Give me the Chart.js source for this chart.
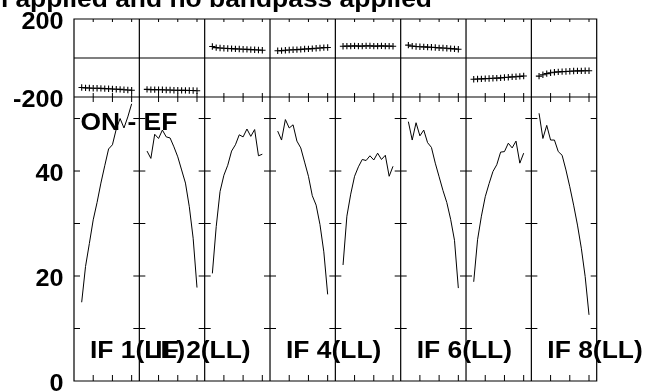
<!DOCTYPE html>
<html><head><meta charset="utf-8">
<script src="https://cdn.jsdelivr.net/npm/chart.js@4/dist/chart.umd.min.js"></script>
<style>html,body{margin:0;padding:0;background:#fff;overflow:hidden}#wrap{width:647px;height:391px;position:relative}</style>
</head><body><div id="wrap"><canvas id="c" width="647" height="391"></canvas></div>
<script>
// ---- data ----
const titleText = 'n applied and no bandpass applied';
const sourceLabel = 'ON - EF';
const panelLabels = ['IF 1(LL)', 'IF 2(LL)', '', 'IF 4(LL)', '', 'IF 6(LL)', '', 'IF 8(LL)'];
const channels = [2, 3, 4, 5, 6, 7, 8, 9, 10, 11, 12, 13, 14, 15];
const chanTicks = [5, 10, 15];
const ampTicks = [10, 20, 30, 40, 50];
const ampLabels = [0, 20, 40];
const phaseLabels = [200, -200];

const amp1 = [15.0, 21.8, 26.2, 30.7, 34.0, 37.7, 41.0, 44.2, 45.0, 48.0, 50.0, 48.2, 50.3, 52.8];
const amp2 = [43.8, 42.4, 47.0, 46.2, 47.8, 46.5, 46.3, 44.6, 42.7, 40.2, 37.7, 33.2, 27.2, 17.8];
const amp3 = [20.5, 29.4, 36.1, 39.2, 41.1, 43.8, 45.0, 46.9, 46.5, 48.0, 46.6, 47.9, 42.9, 43.2];
const amp4 = [47.6, 45.9, 49.8, 48.2, 48.8, 45.7, 44.4, 41.7, 39.0, 35.3, 33.5, 29.8, 24.6, 16.5];
const amp5 = [22.1, 31.4, 35.6, 39.0, 40.8, 42.2, 42.0, 42.9, 42.1, 43.4, 42.2, 43.0, 39.0, 40.9];
const amp6 = [49.4, 45.9, 49.2, 46.7, 47.8, 45.4, 44.5, 41.5, 38.9, 36.3, 34.0, 30.8, 26.8, 17.7];
const amp7 = [18.9, 26.9, 31.4, 35.1, 37.6, 39.9, 41.2, 43.6, 43.7, 45.3, 44.4, 45.7, 41.5, 43.4];
const amp8 = [51.0, 46.2, 48.7, 45.9, 45.9, 43.7, 43.0, 40.2, 37.0, 33.5, 29.7, 25.3, 19.9, 12.6];

const ph1 = [-151, -153, -154, -155, -155, -156, -157, -158, -159, -160, -161, -163, -164, -165];
const ph2 = [-161, -162, -162, -163, -163, -164, -164, -165, -165, -166, -166, -167, -167, -168];
const ph3 = [59, 53, 51, 50, 49, 48, 47, 46, 45, 44, 43, 42, 41, 40];
const ph4 = [37, 38, 40, 41, 42, 43, 44, 46, 47, 48, 50, 51, 53, 54];
const ph5 = [60, 61, 61, 62, 61, 61, 62, 62, 61, 61, 62, 61, 61, 60];
const ph6 = [66, 61, 59, 58, 57, 56, 55, 54, 52, 51, 50, 48, 47, 45];
const ph7 = [-109, -108, -107, -106, -105, -104, -103, -102, -100, -99, -97, -96, -94, -92];
const ph8 = [-93, -86, -80, -76, -73, -71, -70, -69, -68, -67, -66, -66, -65, -65];

const amps = [amp1, amp2, amp3, amp4, amp5, amp6, amp7, amp8];
const phases = [ph1, ph2, ph3, ph4, ph5, ph6, ph7, ph8];

// ---- layout constants (options) ----
const PANEL_W = 17;            // channel units per IF panel
const NPAN = 8;
const AMP_TOP = 54.1;          // amplitude at top of lower panel
const PH_MIN = -200, PH_MAX = 200;
const PLOT_TOP = 19, PLOT_BOT = 381, SPLIT = 97;
const FULL_H = PLOT_BOT - PLOT_TOP;
const ampMax = AMP_TOP * FULL_H / (PLOT_BOT - SPLIT);
const phMin = PH_MAX - (PH_MAX - PH_MIN) * FULL_H / (SPLIT - PLOT_TOP);

const FONT = 'bold 24px "Liberation Sans", Arial, sans-serif';
const SX = 1.1;

const datasets = [];
amps.forEach((a, k) => {
  datasets.push({
    type: 'line', yAxisID: 'yA',
    data: channels.map((c, i) => ({ x: k * PANEL_W + c, y: a[i] })),
    borderColor: '#000', borderWidth: 1, pointRadius: 0, fill: false, tension: 0
  });
});
phases.forEach((p, k) => {
  datasets.push({
    type: 'line', yAxisID: 'yP', showLine: false,
    data: channels.map((c, i) => ({ x: k * PANEL_W + c, y: p[i] })),
    pointStyle: 'cross', pointRadius: 3.2, pointBorderColor: '#000', pointBorderWidth: 1.1,
    pointBackgroundColor: '#000'
  });
});

function txt(ctx, s, x, y, align, sx) {
  ctx.save();
  ctx.translate(x, y);
  ctx.scale(sx, 1);
  ctx.textAlign = align;
  ctx.textBaseline = 'alphabetic';
  ctx.fillText(s, 0, 0);
  ctx.restore();
}

const framePlugin = {
  id: 'frame',
  afterDraw(chart) {
    const ctx = chart.ctx;
    const xs = chart.scales.x, ya = chart.scales.yA, yp = chart.scales.yP;
    const top = yp.getPixelForValue(PH_MAX), mid = yp.getPixelForValue(0), split = yp.getPixelForValue(PH_MIN);
    const bot = ya.getPixelForValue(0);
    const left = xs.getPixelForValue(0), right = xs.getPixelForValue(NPAN * PANEL_W);
    ctx.save();
    ctx.strokeStyle = '#000';
    ctx.lineWidth = 1.2;
    ctx.beginPath();
    ctx.rect(left, top, right - left, bot - top);
    ctx.moveTo(left, mid); ctx.lineTo(right, mid);
    ctx.moveTo(left, split); ctx.lineTo(right, split);
    for (let k = 1; k < NPAN; k++) {
      const x = xs.getPixelForValue(k * PANEL_W);
      ctx.moveTo(x, top); ctx.lineTo(x, bot);
    }
    ctx.stroke();
    ctx.lineWidth = 1;
    ctx.beginPath();
    for (let k = 0; k < NPAN; k++) {
      chanTicks.forEach(t => {
        const x = xs.getPixelForValue(k * PANEL_W + t);
        ctx.moveTo(x, top); ctx.lineTo(x, top + 3);
        ctx.moveTo(x, split); ctx.lineTo(x, split - 4);
        ctx.moveTo(x, split); ctx.lineTo(x, split + 5);
        ctx.moveTo(x, bot); ctx.lineTo(x, bot - 6);
      });
    }
    for (let k = 0; k <= NPAN; k++) {
      const x = xs.getPixelForValue(k * PANEL_W);
      ampTicks.forEach(v => {
        const y = ya.getPixelForValue(v);
        ctx.moveTo(k === 0 ? x : x - 6, y);
        ctx.lineTo(k === NPAN ? x : x + 6, y);
      });
    }
    ctx.stroke();
    // text
    ctx.fillStyle = '#000';
    ctx.font = FONT;
    phaseLabels.forEach(v => txt(ctx, String(v), 63.5, yp.getPixelForValue(v) + 10, 'right', 1.05));
    ampLabels.forEach(v => txt(ctx, String(v), 63.5, ya.getPixelForValue(v) + 10, 'right', 1.05));
    txt(ctx, titleText, 432, 7, 'right', SX);
    txt(ctx, sourceLabel, left + 6.5, 129.5, 'left', SX);
    panelLabels.forEach((s, k) => {
      if (!s) return;
      txt(ctx, s, xs.getPixelForValue(k * PANEL_W) + 16, 357.5, 'left', SX);
    });
    ctx.restore();
  }
};

new Chart(document.getElementById('c'), {
  type: 'line',
  data: { datasets },
  options: {
    responsive: false, animation: false, events: [],
    layout: { padding: { left: 74, right: 647 - 596.7, top: PLOT_TOP, bottom: 391 - PLOT_BOT } },
    plugins: { legend: { display: false }, tooltip: { enabled: false }, title: { display: false } },
    scales: {
      x: { type: 'linear', min: 0, max: NPAN * PANEL_W, display: false },
      yA: { type: 'linear', position: 'left', min: 0, max: ampMax, display: false },
      yP: { type: 'linear', position: 'left', min: phMin, max: PH_MAX, display: false }
    }
  },
  plugins: [framePlugin]
});
</script>
</body></html>
